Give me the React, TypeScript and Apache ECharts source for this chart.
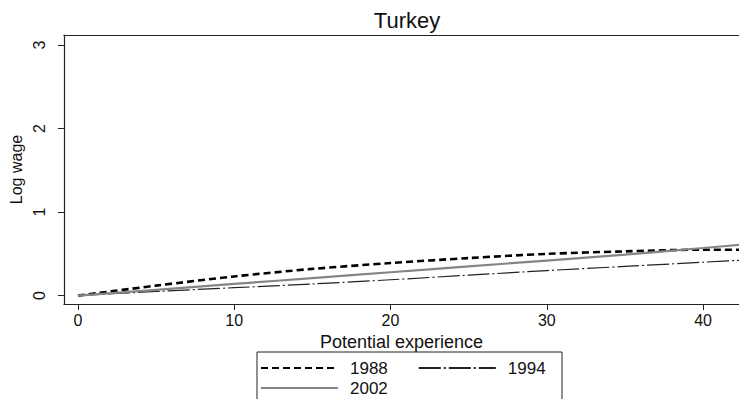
import React, { useEffect, useRef } from "react";
import * as echarts from "echarts";

const experience = [0, 5, 10, 15, 20, 25, 30, 35, 40, 43];
const wage1988 = [0, 0.12, 0.23, 0.32, 0.39, 0.45, 0.5, 0.53, 0.55, 0.55];
const wage1994 = [0, 0.05, 0.095, 0.14, 0.19, 0.245, 0.3, 0.35, 0.4, 0.43];
const wage2002 = [0, 0.07, 0.14, 0.21, 0.28, 0.35, 0.42, 0.49, 0.57, 0.62];
const xTicks = [0, 10, 20, 30, 40];
const yTicks = [0, 1, 2, 3];
const legendRow1 = ["1988", "1994"];
const legendRow2 = ["2002"];

const FONT = "'Liberation Sans', Arial, sans-serif";

function pairs(ys: number[]) {
  return experience.map((x, i) => [x, ys[i]]);
}

export default function App() {
  const ref = useRef<HTMLDivElement>(null);
  useEffect(() => {
    if (!ref.current) return;
    const chart = echarts.init(ref.current, undefined, { renderer: "svg" });
    const legendCommon = {
      orient: "horizontal" as const,
      left: 260,
      padding: 0,
      itemWidth: 77,
      itemHeight: 17,
      itemGap: 30,
      itemStyle: { opacity: 0 },
      textStyle: { fontFamily: FONT, fontSize: 17, color: "#111", padding: [0, 0, 0, 7] },
      selectedMode: false,
    };
    chart.setOption({
      animation: false,
      backgroundColor: "#fff",
      textStyle: { fontFamily: FONT },
      grid: { left: 63, right: 0, top: 35, bottom: 95, containLabel: false },
      xAxis: [
        {
          type: "value",
          min: -0.9,
          max: 42.3,
          position: "bottom",
          name: "Potential experience",
          nameLocation: "middle",
          nameGap: 22,
          nameTextStyle: { fontFamily: FONT, fontSize: 18, color: "#111" },
          axisLine: { show: true, onZero: false, lineStyle: { color: "#222", width: 1.2 } },
          axisTick: { show: true, length: 6, customValues: xTicks, lineStyle: { color: "#222" } },
          axisLabel: { customValues: xTicks, fontFamily: FONT, fontSize: 16, color: "#111", margin: 8 },
          splitLine: { show: false },
        },
        {
          type: "value",
          min: -0.9,
          max: 42.3,
          position: "top",
          axisLine: { show: true, onZero: false, lineStyle: { color: "#222", width: 1.2 } },
          axisTick: { show: false },
          axisLabel: { show: false },
          splitLine: { show: false },
        },
      ],
      yAxis: {
        type: "value",
        min: -0.1,
        max: 3.12,
        name: "Log wage",
        nameLocation: "middle",
        nameGap: 38,
        nameRotate: 90,
        nameTextStyle: { fontFamily: FONT, fontSize: 16, color: "#111" },
        axisLine: { show: true, onZero: false, lineStyle: { color: "#222", width: 1.2 } },
        axisTick: { show: true, length: 6, customValues: yTicks, lineStyle: { color: "#222" } },
        axisLabel: { customValues: yTicks, rotate: 90, fontFamily: FONT, fontSize: 16, color: "#111", margin: 16 },
        splitLine: { show: false },
      },
      legend: [
        { ...legendCommon, top: 359.5, data: legendRow1 },
        { ...legendCommon, top: 379.5, data: legendRow2 },
      ],
      graphic: [
        {
          type: "text",
          x: 407,
          y: 20,
          style: {
            text: "Turkey",
            fontFamily: FONT,
            fontSize: 22,
            fill: "#111",
            textAlign: "center",
            textVerticalAlign: "middle",
          },
        },
        {
          type: "rect",
          shape: { x: 257, y: 352, width: 305, height: 60 },
          style: { fill: "none", stroke: "#222", lineWidth: 1 },
          z: -1,
        },
      ],
      series: [
        {
          name: "1988",
          type: "line",
          data: pairs(wage1988),
          smooth: 0.3,
          symbol: "none",
          lineStyle: { color: "#000", width: 2.6, type: [7, 4] },
          itemStyle: { color: "#000" },
        },
        {
          name: "1994",
          type: "line",
          data: pairs(wage1994),
          smooth: 0.3,
          symbol: "none",
          lineStyle: { color: "#222", width: 1.2, type: [22, 3, 2, 3] },
          itemStyle: { color: "#222" },
        },
        {
          name: "2002",
          type: "line",
          data: pairs(wage2002),
          smooth: 0.3,
          symbol: "none",
          lineStyle: { color: "#858585", width: 2.2 },
          itemStyle: { color: "#858585" },
        },
      ],
    });
    return () => chart.dispose();
  }, []);
  return (
    <div
      ref={ref}
      style={{ position: "fixed", left: 0, top: 0, width: 739, height: 399, background: "#fff" }}
    />
  );
}
